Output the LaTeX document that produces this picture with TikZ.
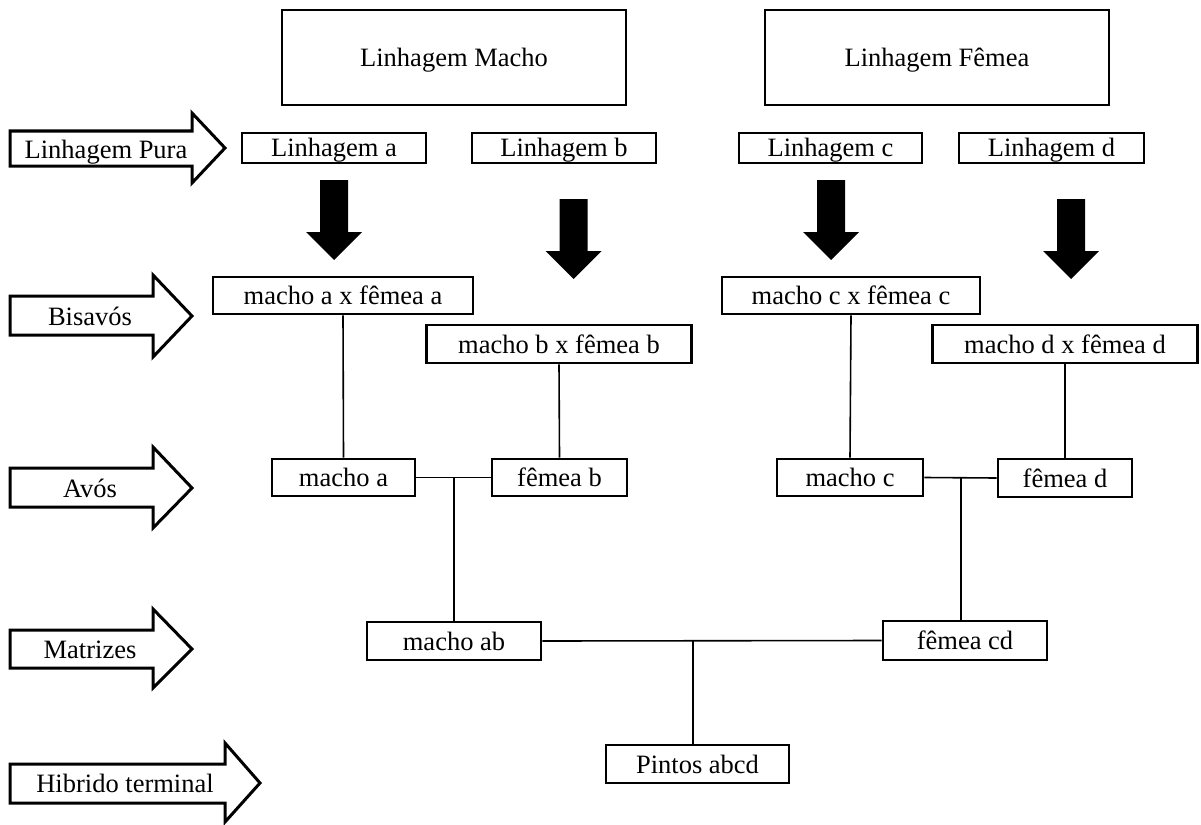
\documentclass[tikz,border=0pt]{standalone}
\usepackage{fontspec}
\setmainfont{Liberation Serif}
\begin{document}
\begin{tikzpicture}[x=1pt,y=-1pt,
  every node/.style={font=\fontsize{26.5}{30}\selectfont, inner sep=0pt, text height=18pt, text depth=0pt},
  bx/.style={draw, line width=2.9pt, fill=white},
  conn/.style={line width=1.6pt},
  blk/.style={fill=black},
  outarrow/.style={draw, line width=3pt, fill=white, line join=miter}]
\useasboundingbox (0,0) rectangle (1201,824);
\newcommand{\blkdown}[2]{\fill[blk] (#1-14,#2) -- (#1+14,#2) -- (#1+14,#2+52) -- (#1+28,#2+52) -- (#1,#2+80) -- (#1-28,#2+52) -- (#1-14,#2+52) -- cycle;}
% top boxes
\node[bx, minimum width=344, minimum height=95] (lmacho) at (454,57.5) {Linhagem Macho};
\node[bx, minimum width=344, minimum height=95] (lfemea) at (937,57.5) {Linhagem Fêmea};
\node[bx, minimum width=184, minimum height=30] (la) at (334,148) {Linhagem a};
\node[bx, minimum width=184, minimum height=30] (lb) at (564,148) {Linhagem b};
\node[bx, minimum width=183, minimum height=30] (lc) at (830.5,148) {Linhagem c};
\node[bx, minimum width=185, minimum height=30] (ld) at (1051.5,148) {Linhagem d};
% black arrows
\blkdown{334}{180}
\blkdown{573.5}{199}
\blkdown{831}{180}
\blkdown{1071}{199}
% bisavos
\node[bx, minimum width=260, minimum height=37] (maxfa) at (343,295.5) {macho a x fêmea a};
\node[bx, minimum width=265, minimum height=38] (mbxfb) at (559,344) {macho b x fêmea b};
\node[bx, minimum width=258, minimum height=37] (mcxfc) at (851,295.5) {macho c x fêmea c};
\node[bx, minimum width=265, minimum height=38] (mdxfd) at (1065,344) {macho d x fêmea d};
% avos
\node[bx, minimum width=143, minimum height=37] (ma) at (343.5,477.5) {macho a};
\node[bx, minimum width=135, minimum height=37] (fb) at (559.5,477.5) {fêmea b};
\node[bx, minimum width=146, minimum height=37] (mc) at (850,477.5) {macho c};
\node[bx, minimum width=134, minimum height=38] (fd) at (1065,478) {fêmea d};
% matrizes
\node[bx, minimum width=174, minimum height=38] (mab) at (454,641) {macho ab};
\node[bx, minimum width=164, minimum height=39] (fcd) at (965,640.5) {fêmea cd};
\node[bx, minimum width=183, minimum height=38] (pintos) at (697.5,764) {Pintos abcd};
% connectors
\draw[conn] (maxfa.south) -- (ma.north);
\draw[conn] (mbxfb.south) -- (fb.north);
\draw[conn] (mcxfc.south) -- (mc.north);
\draw[conn] (mdxfd.south) -- (fd.north);
\coordinate (j1) at (454,477.5);
\coordinate (j2) at (961,478);
\coordinate (j3) at (693,641);
\draw[conn] (ma.east) -- (fb.west);
\draw[conn] (j1) -- (j1 |- mab.north);
\draw[conn] (mc.east) -- (fd.west);
\draw[conn] (j2) -- (j2 |- fcd.north);
\draw[conn] (mab.east) -- (fcd.west);
\draw[conn] (j3) -- (j3 |- pintos.north);
% left arrows
\draw[outarrow] (10,131) -- (192,131) -- (192,113) -- (225,148) -- (192,183) -- (192,166) -- (10,166) -- cycle;
\node (tpura) at (106,149) {Linhagem Pura};
\draw[outarrow] (10,296) -- (153,296) -- (153,275) -- (192,316) -- (153,357) -- (153,335) -- (10,335) -- cycle;
\node (tbis) at (90,316) {Bisavós};
\draw[outarrow] (10,468) -- (153,468) -- (153,447) -- (192,488) -- (153,528) -- (153,507) -- (10,507) -- cycle;
\node (tavos) at (90,488) {Avós};
\draw[outarrow] (10,630) -- (153,630) -- (153,609) -- (192,649) -- (153,688) -- (153,668) -- (10,668) -- cycle;
\node (tmat) at (90,649) {Matrizes};
\draw[outarrow] (10,764) -- (225,764) -- (225,743) -- (260,783) -- (225,822) -- (225,803) -- (10,803) -- cycle;
\node (thib) at (125,783) {Hibrido terminal};
\end{tikzpicture}
\end{document}
